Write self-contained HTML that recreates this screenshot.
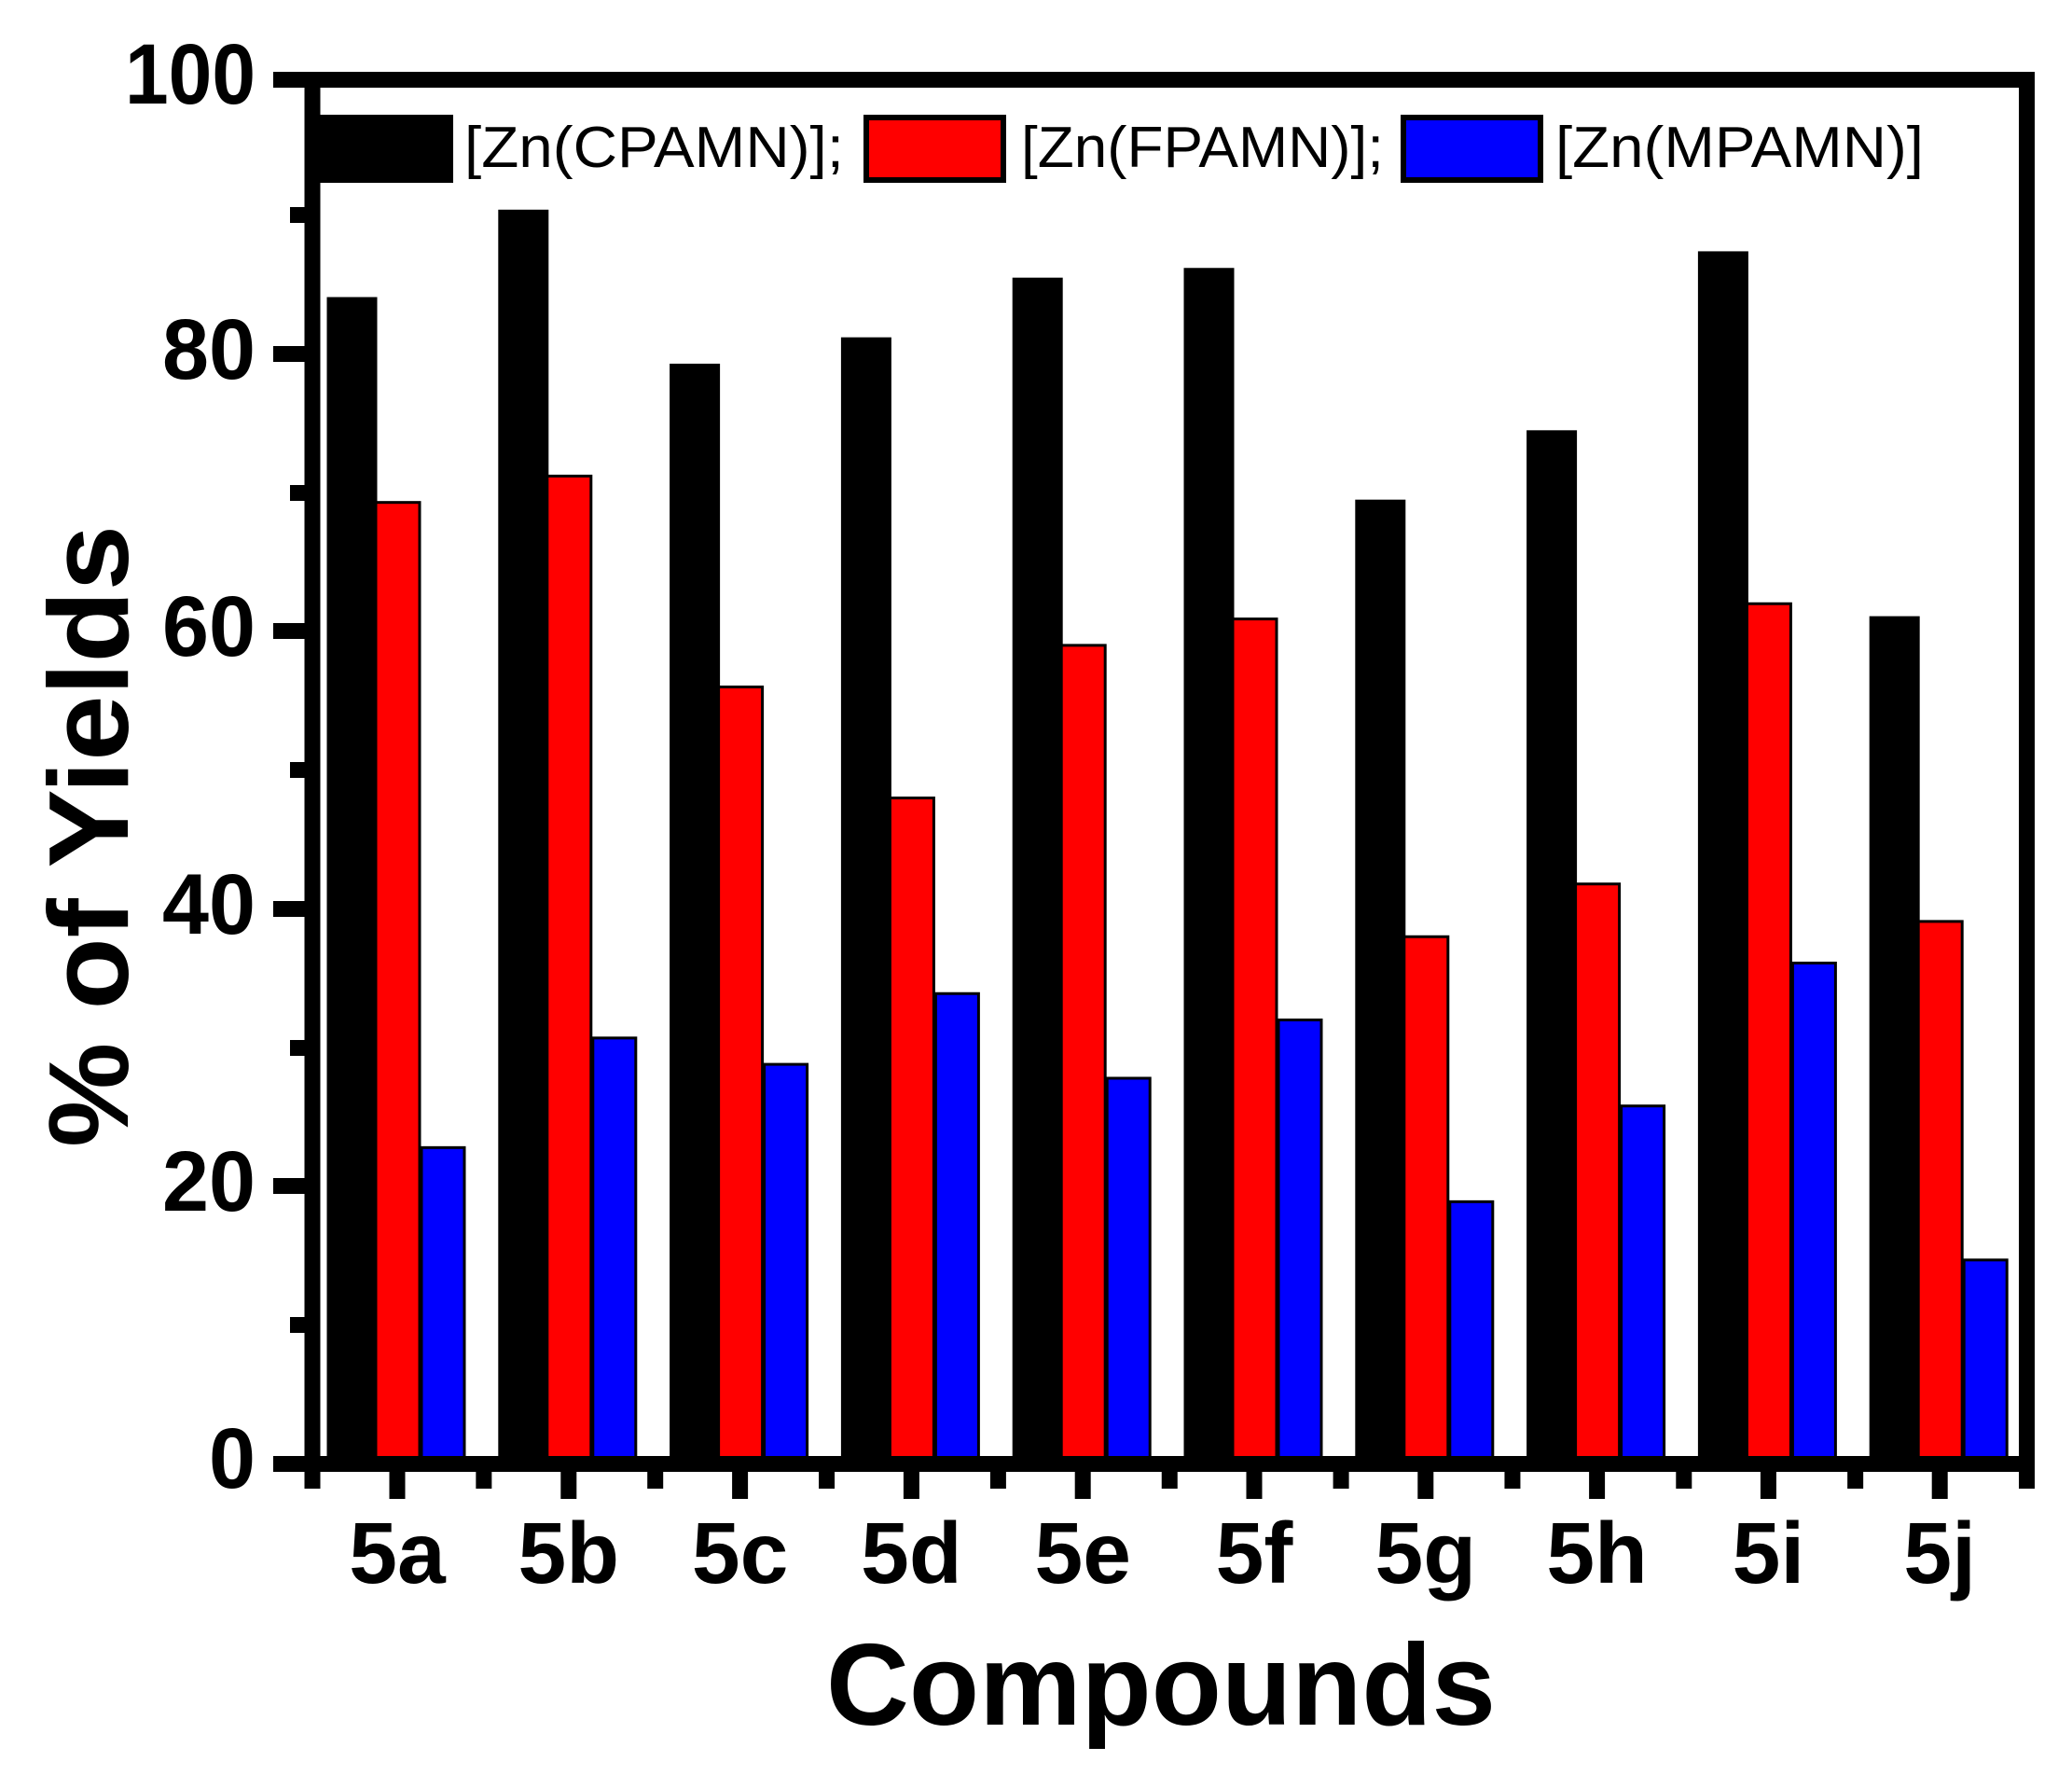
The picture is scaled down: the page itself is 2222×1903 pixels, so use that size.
<!DOCTYPE html>
<html><head><meta charset="utf-8"><style>html,body{margin:0;padding:0;background:#fff}svg{display:block}</style></head>
<body>
<svg width="2222" height="1903" viewBox="0 0 2222 1903" xmlns="http://www.w3.org/2000/svg">
<rect width="2222" height="1903" fill="#fff"/>
<g id="bars" stroke="#000" stroke-width="3"></g>
<script>
(function(){
var k=[84,90.3,79.2,81.1,85.4,86.1,69.4,74.4,87.3,61];
var r=[69.3,71.2,56,48,59,60.9,38,41.8,62,39.1];
var b=[22.8,30.7,28.8,33.9,27.8,32,18.9,25.8,36.1,14.7];
var g=document.getElementById('bars');var ns='http://www.w3.org/2000/svg';
function y(v){return 1569.5-v*14.875;}
function rect(x,w,v,c){var e=document.createElementNS(ns,'rect');e.setAttribute('x',x);e.setAttribute('y',y(v));e.setAttribute('width',w);e.setAttribute('height',1569.5-y(v));e.setAttribute('fill',c);g.appendChild(e);}
for(var i=0;i<10;i++){var t=426+i*183.8;rect(t-74,51,k[i],'#000');rect(t-23,47,r[i],'#f00');rect(t+26,46,b[i],'#00f');}
})();
</script>
<!-- frame -->
<rect x="335" y="85.5" width="1838.5" height="1484" fill="none" stroke="#000" stroke-width="17"/>
<g fill="#000">
<!-- y ticks major -->
<rect x="293" y="1561" width="36" height="17"/>
<rect x="293" y="1263" width="36" height="17"/>
<rect x="293" y="966" width="36" height="17"/>
<rect x="293" y="668" width="36" height="17"/>
<rect x="293" y="371" width="36" height="17"/>
<rect x="293" y="77" width="36" height="17"/>
<!-- y minor -->
<rect x="311" y="1412" width="18" height="17"/>
<rect x="311" y="1115" width="18" height="17"/>
<rect x="311" y="817" width="18" height="17"/>
<rect x="311" y="520" width="18" height="17"/>
<rect x="311" y="222" width="18" height="17"/>
</g>
<g id="xt" fill="#000"></g>
<script>
(function(){var g=document.getElementById('xt');var ns='http://www.w3.org/2000/svg';
for(var i=0;i<10;i++){var t=426+i*183.8;var e=document.createElementNS(ns,'rect');e.setAttribute('x',t-8.5);e.setAttribute('y',1575);e.setAttribute('width',17);e.setAttribute('height',32);g.appendChild(e);}
for(var i=0;i<=10;i++){var t=335+i*183.85;var e=document.createElementNS(ns,'rect');e.setAttribute('x',t-8.5);e.setAttribute('y',1575);e.setAttribute('width',17);e.setAttribute('height',21);g.appendChild(e);}
})();
</script>
<g font-family="Liberation Sans, Arial, sans-serif" font-weight="bold" fill="#000" text-anchor="end" font-size="92">
<text x="274" y="1595" textLength="50" lengthAdjust="spacingAndGlyphs">0</text>
<text x="274" y="1298" textLength="100" lengthAdjust="spacingAndGlyphs">20</text>
<text x="274" y="1001" textLength="100" lengthAdjust="spacingAndGlyphs">40</text>
<text x="274" y="703" textLength="100" lengthAdjust="spacingAndGlyphs">60</text>
<text x="274" y="406" textLength="100" lengthAdjust="spacingAndGlyphs">80</text>
<text x="274" y="111" textLength="140" lengthAdjust="spacingAndGlyphs">100</text>
</g>
<g font-family="Liberation Sans, Arial, sans-serif" font-weight="bold" fill="#000" text-anchor="middle" font-size="93">
<text x="426" y="1697">5a</text>
<text x="609.8" y="1697">5b</text>
<text x="793.6" y="1697">5c</text>
<text x="977.4" y="1697">5d</text>
<text x="1161.2" y="1697">5e</text>
<text x="1345" y="1697">5f</text>
<text x="1528.8" y="1697">5g</text>
<text x="1712.6" y="1697">5h</text>
<text x="1896.4" y="1697">5i</text>
<text x="2080.2" y="1697">5j</text>
</g>
<text x="886" y="1849" font-family="Liberation Sans, Arial, sans-serif" font-weight="bold" font-size="124" textLength="718" lengthAdjust="spacingAndGlyphs">Compounds</text>
<text transform="translate(137,1230) rotate(-90)" x="0" y="0" font-family="Liberation Sans, Arial, sans-serif" font-weight="bold" font-size="122" textLength="667" lengthAdjust="spacingAndGlyphs">% of Yields</text>
<!-- legend -->
<rect x="343" y="123" width="143" height="73" fill="#000"/>
<text x="498" y="179" font-family="Liberation Sans, Arial, sans-serif" font-size="62" textLength="407" lengthAdjust="spacingAndGlyphs">[Zn(CPAMN)];</text>
<rect x="929" y="126" width="147" height="67" fill="#f00" stroke="#000" stroke-width="6"/>
<text x="1095" y="179" font-family="Liberation Sans, Arial, sans-serif" font-size="62" textLength="389" lengthAdjust="spacingAndGlyphs">[Zn(FPAMN)];</text>
<rect x="1505" y="126" width="147" height="67" fill="#00f" stroke="#000" stroke-width="6"/>
<text x="1668" y="179" font-family="Liberation Sans, Arial, sans-serif" font-size="62" textLength="395" lengthAdjust="spacingAndGlyphs">[Zn(MPAMN)]</text>
</svg>
</body></html>
